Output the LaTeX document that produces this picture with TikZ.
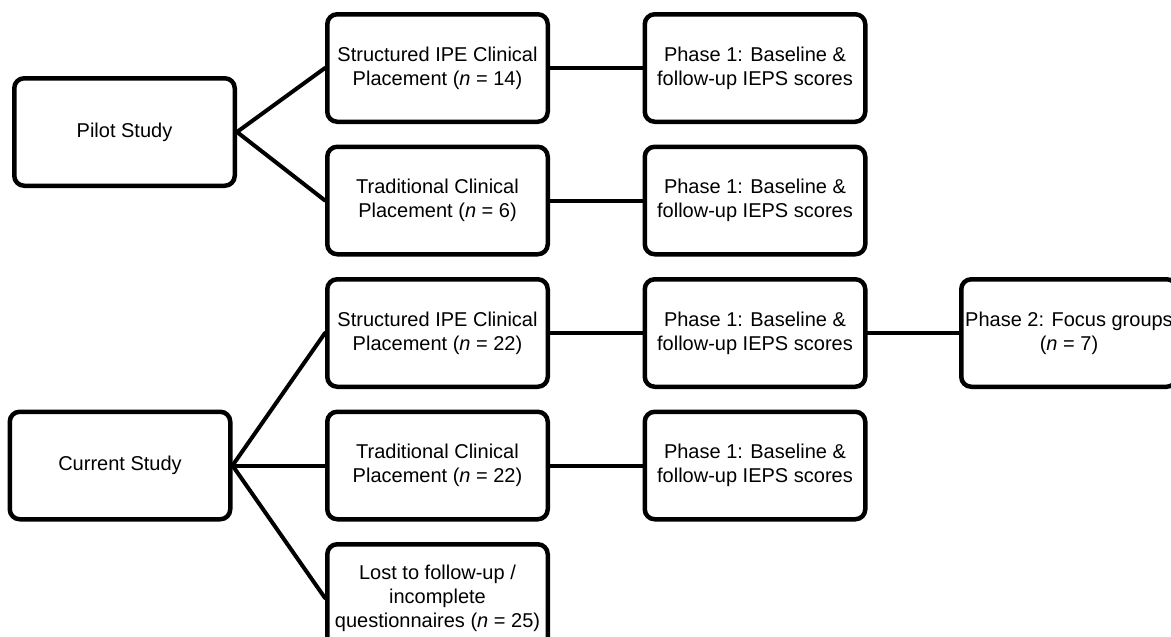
\documentclass[tikz,border=0pt]{standalone}
\usepackage{fontspec}
\setmainfont{Liberation Sans}
\usetikzlibrary{positioning}

\begin{document}
\begin{tikzpicture}[x=1pt,y=-1pt,node distance=20.5pt and 92.5pt,
                      box/.style={rectangle,draw,rounded corners=10pt,line width=4.5pt,
                                  minimum width=220.5pt,minimum height=107.5pt,
                                  align=center,font=\fontsize{20}{24}\selectfont},
                      link/.style={line width=4pt,line cap=round}]
    \useasboundingbox (0,0) rectangle (1171,637);
    % pilot study
    \node[box] (pilotsip) at (437.5,68) {Structured IPE Clinical\\Placement (\textit{n} = 14)};
    \node[box,below=of pilotsip] (pilottcp) {Traditional Clinical\\Placement (\textit{n} = 6)};
    \node[box] (pilot) at (124.5,132) {Pilot Study};
    \node[box,right=of pilotsip] (pilotph1a) {Phase 1: Baseline \&\\follow-up IEPS scores};
    \node[box,right=of pilottcp] (pilotph1b) {Phase 1: Baseline \&\\follow-up IEPS scores};
    % current study
    \node[box,below=of pilottcp] (cursip) {Structured IPE Clinical\\Placement (\textit{n} = 22)};
    \node[box,below=of cursip] (curtcp) {Traditional Clinical\\Placement (\textit{n} = 22)};
    \node[box,below=of curtcp] (lost) {Lost to follow-up /\\incomplete\\questionnaires (\textit{n} = 25)};
    \node[box,left=of curtcp] (current) {Current Study};
    \node[box,right=of cursip] (curph1a) {Phase 1: Baseline \&\\follow-up IEPS scores};
    \node[box,right=of curtcp] (curph1b) {Phase 1: Baseline \&\\follow-up IEPS scores};
    \node[box,minimum width=215.5pt,inner sep=1pt,right=91.5pt of curph1a] (ph2) {Phase 2: Focus groups\\(\textit{n} = 7)};
    \draw[link] (pilot.east) -- (pilotsip.west);
    \draw[link] (pilot.east) -- (pilottcp.west);
    \draw[link] (pilotsip) -- (pilotph1a);
    \draw[link] (pilottcp) -- (pilotph1b);
    \draw[link] (current.east) -- (cursip.west);
    \draw[link] (current.east) -- (curtcp.west);
    \draw[link] (current.east) -- (lost.west);
    \draw[link] (cursip) -- (curph1a);
    \draw[link] (curtcp) -- (curph1b);
    \draw[link] (curph1a) -- (ph2);
  \end{tikzpicture}
\end{document}
